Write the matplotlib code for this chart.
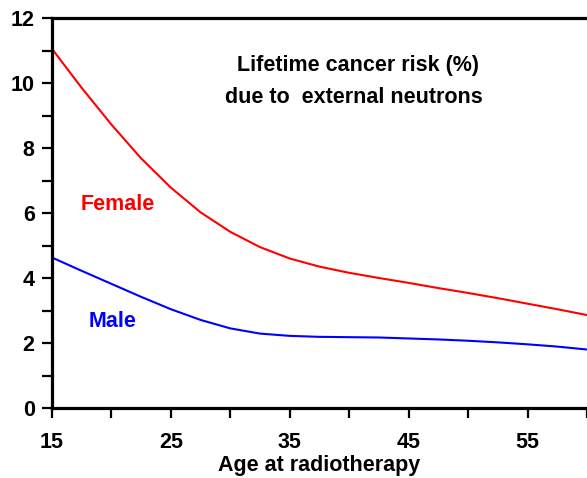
import matplotlib.pyplot as plt
from matplotlib.ticker import FixedLocator

plt.rcParams["font.family"] = ["Liberation Sans", "DejaVu Sans"]
plt.rcParams["font.weight"] = "bold"

# values
age = [15, 17.5, 20, 22.5, 25, 27.5, 30, 32.5, 35, 37.5, 40,
       42.5, 45, 47.5, 50, 52.5, 55, 57.5, 60]
female = [11.05, 9.85, 8.72, 7.68, 6.78, 6.02, 5.42, 4.95, 4.60, 4.35, 4.16,
          4.00, 3.85, 3.69, 3.54, 3.38, 3.21, 3.04, 2.86]
male = [4.63, 4.22, 3.82, 3.42, 3.04, 2.71, 2.45, 2.29, 2.22, 2.19, 2.18,
        2.17, 2.14, 2.11, 2.07, 2.02, 1.96, 1.89, 1.80]

x_major = [15, 25, 35, 45, 55]
x_minor = [20, 30, 40, 50, 60]
y_major = [0, 2, 4, 6, 8, 10, 12]
y_minor = [1, 3, 5, 7, 9, 11]

fig = plt.figure(figsize=(5.87, 4.78), dpi=100)
ax = fig.add_axes([0.0886, 0.1464, 0.9114, 0.8159])

ax.plot(age, female, color="#ff0000", lw=1.5)
ax.plot(age, male, color="#0000ff", lw=1.5)

ax.set_xlim(15, 60)
ax.set_ylim(0, 12)
ax.xaxis.set_major_locator(FixedLocator(x_major))
ax.xaxis.set_minor_locator(FixedLocator(x_minor))
ax.yaxis.set_major_locator(FixedLocator(y_major))
ax.yaxis.set_minor_locator(FixedLocator(y_minor))

for side in ["left", "bottom", "top"]:
    ax.spines[side].set_linewidth(2.3)
ax.spines["right"].set_linewidth(0.8)
ax.spines["right"].set_color("#d0d0d0")

ax.tick_params(which="both", direction="out", length=7, width=1.6, labelsize=15.5)
ax.tick_params(axis="x", which="both", top=False, pad=10)
ax.tick_params(axis="y", which="both", right=False, pad=5.5)

ax.set_xlabel("Age at radiotherapy", fontsize=15.5, fontweight="bold", labelpad=2)

ax.text(40.7, 10.55, "Lifetime cancer risk (%)", fontsize=15.5,
        fontweight="bold", ha="center", va="center")
ax.text(40.4, 9.54, "due to  external neutrons", fontsize=15.5,
        fontweight="bold", ha="center", va="center")
ax.text(20.5, 6.25, "Female", color="#ff0000", fontsize=15.5,
        fontweight="bold", ha="center", va="center")
ax.text(20.1, 2.65, "Male", color="#0000ff", fontsize=15.5,
        fontweight="bold", ha="center", va="center")

fig.savefig("out.png", dpi=100)
plt.close(fig)
